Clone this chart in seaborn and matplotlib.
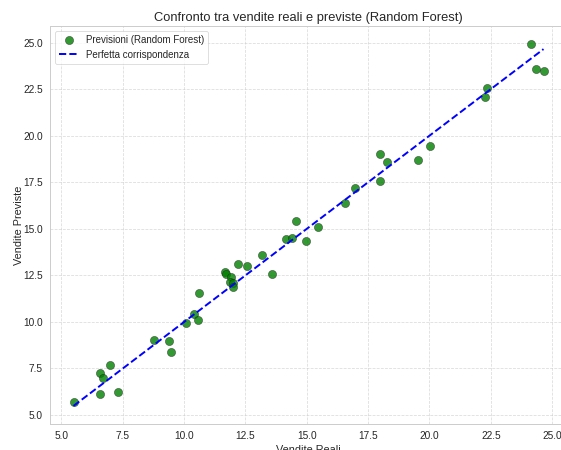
import matplotlib
matplotlib.use("Agg")
import matplotlib.pyplot as plt
import seaborn as sns
import numpy as np
import pandas as pd

actual = [5.49, 6.59, 6.59, 6.68, 6.99, 7.29, 8.79, 9.40, 9.48, 10.07,
          10.39, 10.58, 10.60, 11.67, 11.69, 11.90, 11.88, 11.98, 11.98, 12.18,
          12.57, 13.17, 13.58, 14.17, 14.39, 14.58, 14.96, 15.47, 16.56, 16.96,
          17.97, 18.26, 17.97, 19.55, 20.04, 22.35, 22.25, 24.15, 24.33, 24.65]
predicted = [5.71, 6.11, 7.27, 7.00, 7.68, 6.25, 9.02, 8.97, 8.36, 9.94,
             10.40, 10.11, 11.56, 12.69, 12.58, 12.42, 12.12, 12.10, 11.90, 13.10,
             12.98, 13.62, 12.55, 14.43, 14.51, 15.44, 14.32, 15.10, 16.39, 17.18,
             19.04, 18.57, 17.59, 18.72, 19.45, 22.56, 22.06, 24.92, 23.58, 23.45]

title = "Confronto tra vendite reali e previste (Random Forest)"
xlabel = "Vendite Reali"
ylabel = "Vendite Previste"
scatter_label = "Previsioni (Random Forest)"
line_label = "Perfetta corrispondenza"

sns.set_theme(style="whitegrid")
plt.rcParams['font.family'] = ['Liberation Sans', 'DejaVu Sans']

df = pd.DataFrame({"actual": actual, "predicted": predicted})

fig = plt.figure(figsize=(10, 450 / 56.1), dpi=56.1)
ax = fig.add_axes([50 / 561, 26 / 450, 517 / 561, (424 - 26) / 450])

sns.scatterplot(data=df, x="actual", y="predicted", color="green", s=110,
                alpha=0.8, edgecolor="k", linewidth=0.6, label=scatter_label, ax=ax)
lo, hi = min(actual), max(actual)
line_df = pd.DataFrame({"x": [lo, hi], "y": [lo, hi]})
sns.lineplot(data=line_df, x="x", y="y", color="blue", linestyle="--", linewidth=2.5,
             label=line_label, ax=ax)

ax.set_title(title, fontsize=16.5)
ax.set_xlabel(xlabel, fontsize=14)
ax.set_ylabel(ylabel, fontsize=14, labelpad=-1)
ax.tick_params(labelsize=13)
ax.grid(True, linestyle="--", alpha=0.7)
ax.legend(loc="upper left", fontsize=12.5)

fig.savefig("out.png", dpi=56.1)
